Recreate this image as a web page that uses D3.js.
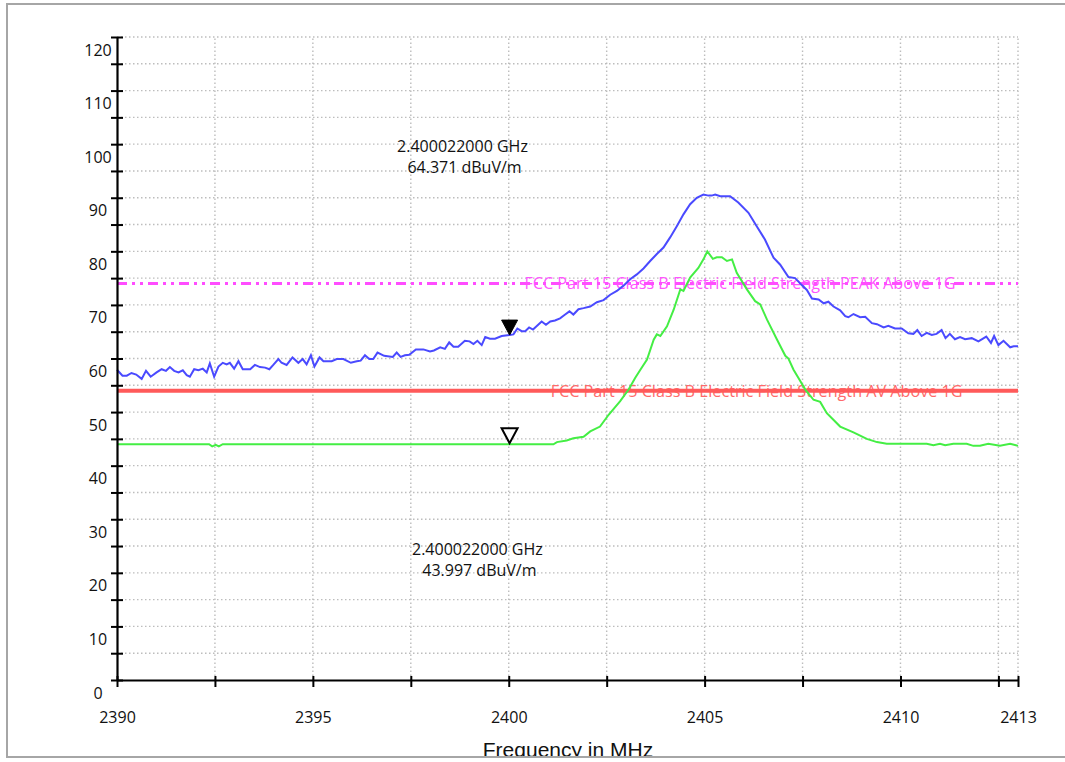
<!DOCTYPE html>
<html>
<head>
<meta charset="utf-8">
<script src="https://cdn.jsdelivr.net/npm/d3@7"></script>
<style>
  html, body { margin: 0; padding: 0; background: #fff; }
  svg { display: block; }
</style>
</head>
<body>
<svg id="chart" width="1065" height="762"></svg>
<script>
// ---------------- DATA ----------------
const xTickValues = [2390, 2392.5, 2395, 2397.5, 2400, 2402.5, 2405, 2407.5, 2410, 2412.5, 2413];
const xTickLabels = [2390, 2395, 2400, 2405, 2410, 2413];
const yTickValues = d3.range(0, 121, 5);
const yTickLabels = [0, 10, 20, 30, 40, 50, 60, 70, 80, 90, 100, 110, 120];

const peakFreq = [
 2390.00,2390.14,2390.25,2390.37,2390.49,2390.63,2390.74,2390.86,2391.01,2391.14,2391.25,2391.35,2391.46,2391.57,
 2391.68,2391.78,2391.86,2391.97,2392.08,2392.19,2392.29,2392.37,2392.48,2392.59,2392.70,2392.80,2392.88,2392.99,
 2393.10,2393.21,2393.40,2393.52,2393.65,2393.78,2393.89,2393.99,2394.12,2394.20,2394.33,2394.48,2394.63,2394.74,
 2394.84,2394.95,2395.04,2395.17,2395.27,2395.48,2395.61,2395.78,2395.97,2396.12,2396.22,2396.33,2396.44,2396.54,
 2396.65,2396.82,2397.04,2397.14,2397.24,2397.35,2397.46,2397.63,2397.82,2397.99,2398.09,2398.25,2398.37,2398.48,
 2398.59,2398.71,2398.88,2399.00,2399.10,2399.20,2399.31,2399.40,2399.52,2399.65,2399.82,2400.02,2400.12,2400.22,
 2400.33,2400.42,2400.52,2400.62,2400.84,2400.95,2401.06,2401.18,2401.31,2401.44,2401.55,2401.65,2401.78,2401.91,
 2402.08,2402.25,2402.42,2402.59,2402.76,2402.93,2403.10,2403.27,2403.44,2403.61,2403.78,2403.95,2404.12,2404.29,
 2404.46,2404.63,2404.80,2404.97,2405.10,2405.18,2405.27,2405.40,2405.65,2405.86,2406.12,2406.33,2406.54,2406.76,
 2406.93,2407.14,2407.31,2407.48,2407.61,2407.74,2407.91,2408.04,2408.16,2408.29,2408.46,2408.59,2408.67,2408.80,
 2408.97,2409.10,2409.27,2409.40,2409.57,2409.69,2409.86,2410.03,2410.20,2410.33,2410.43,2410.54,2410.67,2410.80,
 2410.92,2411.05,2411.15,2411.26,2411.39,2411.52,2411.65,2411.82,2411.99,2412.19,2412.31,2412.39,2412.50,2412.63,
 2412.80,2412.89,2413.00
];
const peakLevel = [
 57.9,56.8,56.8,57.3,57.0,56.2,57.7,56.6,57.4,58.0,57.7,58.4,57.7,57.4,
 57.8,56.9,56.6,58.0,57.8,58.1,57.4,59.1,56.6,58.5,59.2,58.9,59.2,58.1,
 59.5,58.0,58.0,58.8,58.4,58.3,58.0,58.8,59.9,59.2,58.8,60.2,59.2,59.9,
 58.9,60.6,58.5,60.2,59.5,59.5,59.9,59.9,59.2,59.5,59.6,60.6,59.9,59.9,
 61.1,60.5,60.3,61.1,60.3,60.6,60.7,61.7,61.7,61.3,61.5,62.1,61.8,63.0,
 62.2,62.2,63.3,63.2,62.7,63.3,62.5,64.0,63.7,63.7,64.2,64.37,64.5,65.6,
 65.1,65.1,65.8,65.4,66.9,66.3,66.9,67.1,67.5,68.2,68.8,68.2,69.2,69.4,
 69.7,70.5,70.9,71.9,72.6,73.6,74.8,75.7,76.8,78.2,79.5,80.7,82.6,84.7,
 86.9,88.8,90.0,90.6,90.4,90.4,90.6,90.3,90.3,89.1,87.2,84.7,82.2,78.8,
 77.5,75.2,75.0,73.7,72.8,71.2,71.0,70.3,70.6,69.7,69.0,67.9,67.7,68.3,
 67.7,67.8,66.6,66.4,65.8,66.1,65.6,65.6,64.7,64.6,65.3,64.2,64.8,64.4,
 64.6,65.3,63.8,64.6,63.6,64.0,63.6,63.8,63.2,64.1,62.9,64.2,62.5,63.3,
 62.1,62.3,62.3
];

const avgFreq = [
 2390.00,2392.35,2392.43,2392.52,2392.60,2392.70,2401.14,2401.23,2401.48,2401.65,2401.91,2402.08,2402.33,2402.55,
 2402.84,2403.06,2403.23,2403.36,2403.53,2403.70,2403.78,2403.87,2404.04,2404.21,2404.38,2404.46,2404.63,2404.84,
 2404.97,2405.07,2405.21,2405.31,2405.44,2405.57,2405.70,2405.82,2406.08,2406.29,2406.42,2406.59,2406.85,2407.06,
 2407.14,2407.27,2407.40,2407.57,2407.78,2407.95,2408.12,2408.46,2408.80,2409.14,2409.40,2409.65,2410.67,2410.84,
 2411.01,2411.14,2411.35,2411.69,2411.86,2412.03,2412.24,2412.54,2412.80,2413.00
];
const avgLevel = [
 44.0,44.0,43.6,43.9,43.6,44.0,44.0,44.4,44.7,45.1,45.4,46.4,47.3,49.5,
 52.0,54.2,56.4,57.9,59.8,63.5,64.5,64.2,66.0,69.1,72.9,72.6,75.1,76.9,
 78.5,80.0,78.6,78.9,78.9,78.2,78.5,76.0,72.9,70.7,70.1,67.3,63.5,60.5,
 60.0,57.9,56.3,54.2,52.3,51.9,49.8,47.3,46.2,45.0,44.4,44.1,44.1,43.8,
 44.1,43.8,44.1,44.1,43.7,43.7,44.1,43.7,44.1,43.7
];

const limitNames = ["FCC Part 15 Class B Electric Field Strength PEAK Above 1G",
                    "FCC Part 15 Class B Electric Field Strength AV Above 1G"];
const limitLevels = [74, 54];

const markerFreq = [2400.022, 2400.022];
const markerLevel = [64.371, 43.997];
const markerLines = [["2.400022000 GHz", "64.371 dBuV/m"], ["2.400022000 GHz", "43.997 dBuV/m"]];

const xTitle = "Frequency in MHz";

// ---------------- LAYOUT ----------------
const svg = d3.select("#chart");
const x = d3.scaleLinear().domain([2390, 2413]).range([117, 1018]);
const y = d3.scaleLinear().domain([0, 120]).range([680, 37]);
const FONT = "'Open Sans', Lato, sans-serif";

// grid
const grid = svg.append("g").attr("stroke", "#bdbdbd").attr("stroke-width", 1.4)
  .attr("stroke-dasharray", "1.5,2.5");
grid.selectAll("line.h").data(yTickValues.filter(v => v > 0)).join("line")
  .attr("x1", x(2390)).attr("x2", x(2413)).attr("y1", d => y(d)).attr("y2", d => y(d));
grid.selectAll("line.v").data(xTickValues.filter(v => v > 2390)).join("line")
  .attr("y1", y(0)).attr("y2", y(120)).attr("x1", d => x(d)).attr("x2", d => x(d));

// limit labels (under lines)
const limitColors = ["#ff4dff", "#ff5a5a"];
const limitTextColors = ["#ff55ff", "#ff6a6a"];
const limitLabelStart = [2400.4, 2401.07];
const limitLabelLen = [431, 412];
limitNames.forEach((name, i) => {
  svg.append("text")
    .attr("x", x(limitLabelStart[i])).attr("y", y(limitLevels[i]) + 6)
    .attr("text-anchor", "start")
    .attr("textLength", limitLabelLen[i]).attr("lengthAdjust", "spacingAndGlyphs")
    .attr("font-family", FONT).attr("font-size", 16)
    .attr("fill", limitTextColors[i])
    .text(name);
});
// limit lines
svg.append("line")
  .attr("x1", x(2390)).attr("x2", x(2413))
  .attr("y1", y(limitLevels[0])).attr("y2", y(limitLevels[0]))
  .attr("stroke", limitColors[0]).attr("stroke-width", 3)
  .attr("stroke-dasharray", "10,5,3,5,3,5");
svg.append("line")
  .attr("x1", x(2390)).attr("x2", x(2413))
  .attr("y1", y(limitLevels[1])).attr("y2", y(limitLevels[1]))
  .attr("stroke", limitColors[1]).attr("stroke-width", 4);

// traces
const line = d3.line().x(d => x(d[0])).y(d => y(d[1]));
svg.append("path")
  .datum(avgFreq.map((f, i) => [f, avgLevel[i]]))
  .attr("d", line).attr("fill", "none").attr("stroke", "#44ee44").attr("stroke-width", 2);
svg.append("path")
  .datum(peakFreq.map((f, i) => [f, peakLevel[i]]))
  .attr("d", line).attr("fill", "none").attr("stroke", "#4a4aff").attr("stroke-width", 2);

// markers
const tri = (cx, cy) => `M${cx},${cy} L${cx - 8},${cy - 15} L${cx + 8},${cy - 15} Z`;
svg.append("path").attr("d", tri(x(markerFreq[0]), y(markerLevel[0])))
  .attr("fill", "#000").attr("stroke", "#000").attr("stroke-width", 1);
svg.append("path").attr("d", tri(x(markerFreq[1]), y(markerLevel[1]) - 1))
  .attr("fill", "#fff").attr("stroke", "#000").attr("stroke-width", 2);

// marker annotations (positions in data units)
const annoPos = [[2398.82, 98.6], [2399.2, 23.4]];
markerLines.forEach((lines, i) => {
  const t = svg.append("text").attr("font-family", FONT).attr("font-size", 16)
    .attr("fill", "#111").attr("text-anchor", "middle");
  lines.forEach((s, j) => {
    t.append("tspan").attr("x", x(annoPos[i][0]) + (j ? 2 : 0))
      .attr("y", y(annoPos[i][1]) + j * 21).text(s);
  });
});

// axes
const yAxis = d3.axisLeft(y).tickValues(yTickValues)
  .tickFormat(d => yTickLabels.includes(d) ? d : "").tickSize(0).tickPadding(0);
const gy = svg.append("g").attr("transform", `translate(${x(2390)},0)`).call(yAxis);
gy.select(".domain").attr("stroke", "#000").attr("stroke-width", 2.2);
gy.selectAll(".tick line").attr("x1", -6).attr("x2", 6).attr("stroke", "#000").attr("stroke-width", 2);
gy.selectAll(".tick text").attr("x", -19).attr("dy", 18).attr("text-anchor", "middle")
  .attr("font-family", FONT).attr("font-size", 16).attr("fill", "#111");

const xAxis = d3.axisBottom(x).tickValues(xTickValues)
  .tickFormat(d => xTickLabels.includes(d) ? d : "").tickSize(0).tickPadding(0);
const gx = svg.append("g").attr("transform", `translate(0,${y(0)})`).call(xAxis);
gx.select(".domain").attr("stroke", "#000").attr("stroke-width", 2.2);
gx.selectAll(".tick line").attr("y1", -4).attr("y2", 7).attr("stroke", "#000").attr("stroke-width", 2);
gx.selectAll(".tick text").attr("y", 43).attr("dy", 0)
  .attr("font-family", FONT).attr("font-size", 16).attr("fill", "#111");

// x title (clipped by frame)
svg.append("defs").append("clipPath").attr("id", "frameClip")
  .append("rect").attr("x", 0).attr("y", 0).attr("width", 1065).attr("height", 756);
svg.append("text").attr("clip-path", "url(#frameClip)")
  .attr("x", 568).attr("y", 757).attr("text-anchor", "middle")
  .attr("font-family", "'Liberation Sans', Arial, sans-serif").attr("font-size", 21)
  .attr("fill", "#111").text(xTitle);

// frame
svg.append("rect").attr("x", 7).attr("y", 4).attr("width", 1070).attr("height", 753)
  .attr("fill", "none").attr("stroke", "#a6a6a6").attr("stroke-width", 2);
</script>
</body>
</html>
